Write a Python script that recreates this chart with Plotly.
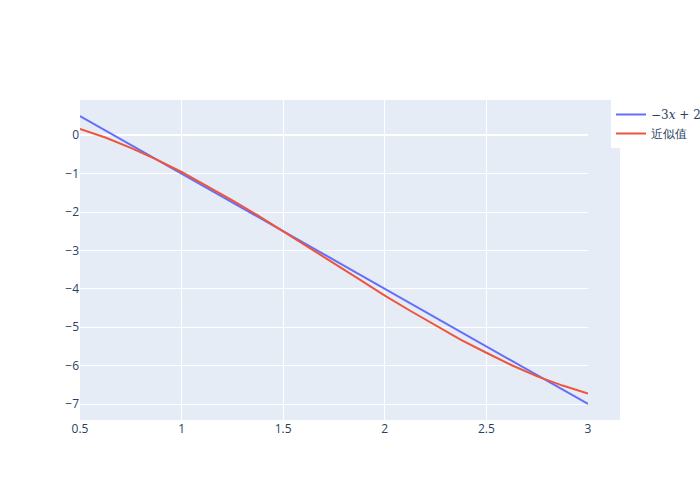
import plotly.graph_objects as go

# x sample points
x_vals = [0.5, 0.625, 0.75, 0.875, 1.0, 1.125, 1.25, 1.375, 1.5, 1.625, 1.75,
          1.875, 2.0, 2.125, 2.25, 2.375, 2.5, 2.625, 2.75, 2.875, 3.0]
# exact line -3x+2
line_vals = [0.5, 0.125, -0.25, -0.625, -1.0, -1.375, -1.75, -2.125, -2.5, -2.875, -3.25,
             -3.625, -4.0, -4.375, -4.75, -5.125, -5.5, -5.875, -6.25, -6.625, -7.0]
# approximation
approx_vals = [0.165, -0.06, -0.33, -0.627, -0.958, -1.316, -1.695, -2.09, -2.5, -2.917, -3.337,
               -3.756, -4.18, -4.572, -4.96, -5.33, -5.665, -5.99, -6.28, -6.52, -6.73]

line_name = '<span style="font-family:\'DejaVu Serif\'">−3<i>x</i> + 2</span>'
approx_name = '近似值'

fig = go.Figure()
fig.add_trace(go.Scatter(x=x_vals, y=line_vals, mode='lines', name=line_name,
                         line=dict(color='#636efa', width=2)))
fig.add_trace(go.Scatter(x=x_vals, y=approx_vals, mode='lines', name=approx_name,
                         line=dict(color='#EF553B', width=2)))

dom_end = 508 / 540
fig.update_layout(
    template='plotly',
    width=700, height=500,
    margin=dict(l=80, r=80, t=100, b=80, autoexpand=False),
    xaxis=dict(domain=[0, dom_end]),
    legend=dict(x=(611 - 80) / 540, y=1, xanchor='left', yanchor='top',
                bgcolor='white'),
    shapes=[dict(type='rect', xref='paper', yref='paper', x0=dom_end, x1=1, y0=0, y1=1,
                 fillcolor='#E5ECF6', line=dict(width=0), layer='below')],
)

fig.write_html("out.html", config={'displayModeBar': False},
               post_script="document.body.style.margin='0';")
